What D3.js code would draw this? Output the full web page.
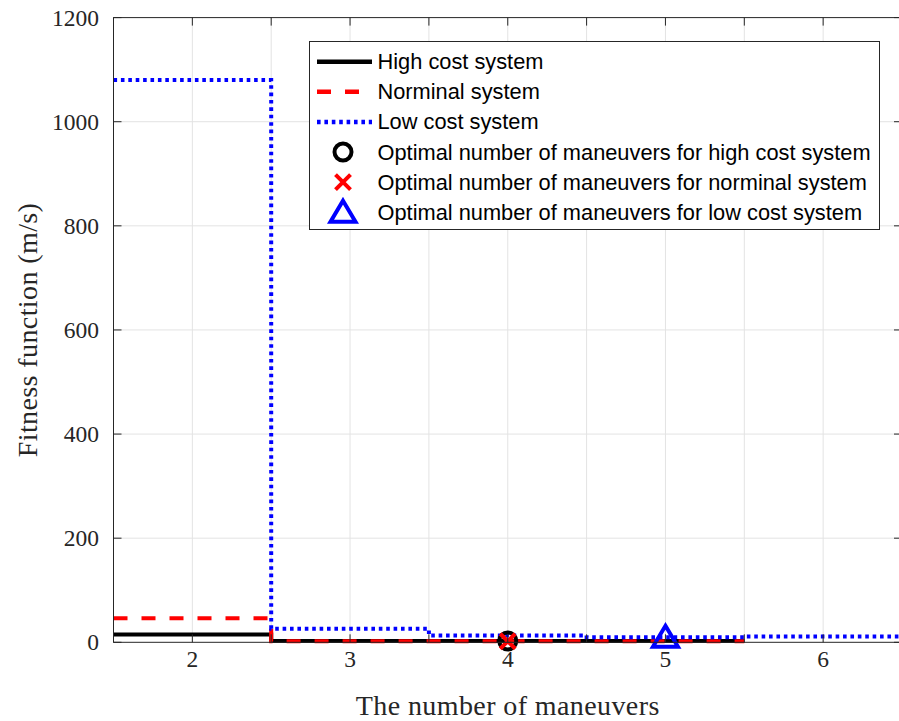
<!DOCTYPE html>
<html lang="en">
<head>
    <meta charset="utf-8">
    <script src="https://d3js.org/d3.v7.min.js"></script>
</head>
<body style="margin:0;background:#fff">
<style>
    .tick-label { font-family: "Liberation Serif", serif; font-size: 23.5px; fill: #262626; }
    .axis-title { font-family: "Liberation Serif", serif; font-size: 28px; fill: #262626; letter-spacing: 0.4px; }
    .legend-text { font-family: "Liberation Sans", Arial, sans-serif; font-size: 21.8px; fill: #000; }
</style>
<svg></svg>
<script>
    const width = 899;
    const height = 721;

    // data
    const maneuvers = [2, 3, 4, 5, 6];
    const highCost = [15, 2.5, 2.5, 2.5];
    const nominal = [46, 2, 2, 2];
    const lowCost = [1080, 26, 13, 9.5, 11];
    const optimal = [
        {name: 'high', n: 4, value: 2.5},
        {name: 'nominal', n: 4, value: 2},
        {name: 'low', n: 5, value: 9.5}
    ];
    const xTicks = [1.5, 2, 2.5, 3, 3.5, 4, 4.5, 5, 5.5, 6, 6.5];
    const xLabels = [2, 3, 4, 5, 6];
    const yTicks = [0, 200, 400, 600, 800, 1000, 1200];
    const legendLabels = [
        'High cost system',
        'Norminal system',
        'Low cost system',
        'Optimal number of maneuvers for high cost system',
        'Optimal number of maneuvers for norminal system',
        'Optimal number of maneuvers for low cost system'
    ];

    const svg = d3.select('svg').attr('width', width).attr('height', height);

    const pLeft = 113.5, pRight = 902, pTop = 17.6, pBottom = 642.3;
    const x = d3.scaleLinear().domain([1.5, 6.5]).range([pLeft, pRight]);
    const y = d3.scaleLinear().domain([0, 1200]).range([pBottom, pTop]);

    // grid
    svg.append('g').selectAll('line').data(xTicks.slice(1, -1)).enter().append('line')
        .attr('x1', d => x(d)).attr('x2', d => x(d))
        .attr('y1', pTop).attr('y2', pBottom)
        .attr('stroke', '#e3e3e3').attr('stroke-width', 1);
    svg.append('g').selectAll('line').data(yTicks.slice(1, -1)).enter().append('line')
        .attr('x1', pLeft).attr('x2', pRight)
        .attr('y1', d => y(d)).attr('y2', d => y(d))
        .attr('stroke', '#e3e3e3').attr('stroke-width', 1);

    // step lines: each value spans n-0.5 .. n+0.5
    const stepPoints = vals => {
        const pts = vals.map((v, i) => [maneuvers[i] - 0.5, v]);
        pts.push([maneuvers[vals.length - 1] + 0.5, vals[vals.length - 1]]);
        return pts;
    };
    const line = d3.line().x(d => x(d[0])).y(d => y(d[1])).curve(d3.curveStepAfter);

    const series = [
        {vals: highCost, color: '#000', dash: null},
        {vals: nominal, color: '#ff0000', dash: '14,14'},
        {vals: lowCost, color: '#0000ff', dash: '3.6,3.8'}
    ];
    series.forEach(s => {
        svg.append('path').datum(stepPoints(s.vals))
            .attr('d', line)
            .attr('fill', 'none')
            .attr('stroke', s.color)
            .attr('stroke-width', 4)
            .attr('stroke-dasharray', s.dash);
    });

    // marker shapes
    const drawMarker = (g, name, cx, cy) => {
        if (name === 'high') {
            g.append('circle').attr('cx', cx).attr('cy', cy).attr('r', 8.5)
                .attr('fill', 'none').attr('stroke', '#000').attr('stroke-width', 4);
        } else if (name === 'nominal') {
            const s = 7.5;
            g.append('path')
                .attr('d', `M${cx - s},${cy - s}L${cx + s},${cy + s}M${cx - s},${cy + s}L${cx + s},${cy - s}`)
                .attr('stroke', '#ff0000').attr('stroke-width', 4).attr('fill', 'none');
        } else {
            const w = 12.5, h = 21;
            g.append('path')
                .attr('d', `M${cx},${cy - h * 0.55}L${cx + w},${cy + h * 0.45}L${cx - w},${cy + h * 0.45}Z`)
                .attr('stroke', '#0000ff').attr('stroke-width', 4).attr('fill', 'none')
                .attr('stroke-linejoin', 'miter');
        }
    };
    const markers = svg.append('g');
    optimal.forEach(o => drawMarker(markers, o.name, x(o.n), y(o.value)));

    // axes box
    const axisColor = '#262626';
    svg.append('rect').attr('x', pLeft).attr('y', pTop)
        .attr('width', pRight - pLeft).attr('height', pBottom - pTop)
        .attr('fill', 'none').attr('stroke', axisColor).attr('stroke-width', 1);

    const tickLen = 8;
    const ticks = svg.append('g').attr('stroke', axisColor).attr('stroke-width', 1);
    xTicks.slice(1, -1).forEach(t => {
        ticks.append('line').attr('x1', x(t)).attr('x2', x(t)).attr('y1', pBottom).attr('y2', pBottom - tickLen);
        ticks.append('line').attr('x1', x(t)).attr('x2', x(t)).attr('y1', pTop).attr('y2', pTop + tickLen);
    });
    yTicks.forEach(t => {
        ticks.append('line').attr('x1', pLeft).attr('x2', pLeft + tickLen).attr('y1', y(t)).attr('y2', y(t));
        ticks.append('line').attr('x1', pRight).attr('x2', pRight - tickLen).attr('y1', y(t)).attr('y2', y(t));
    });

    svg.append('g').selectAll('text').data(xLabels).enter().append('text')
        .attr('class', 'tick-label')
        .attr('x', d => x(d)).attr('y', 667)
        .attr('text-anchor', 'middle')
        .text(d => d);
    svg.append('g').selectAll('text').data(yTicks).enter().append('text')
        .attr('class', 'tick-label')
        .attr('x', 99).attr('y', d => y(d) + 8)
        .attr('text-anchor', 'end')
        .text(d => d);

    svg.append('text').attr('class', 'axis-title')
        .attr('x', (pLeft + pRight) / 2).attr('y', 715)
        .attr('text-anchor', 'middle')
        .text('The number of maneuvers');
    svg.append('text').attr('class', 'axis-title')
        .attr('transform', `translate(37,${(pTop + pBottom) / 2}) rotate(-90)`)
        .attr('text-anchor', 'middle')
        .text('Fitness function (m/s)');

    // legend
    const lg = svg.append('g');
    lg.append('rect').attr('x', 309.5).attr('y', 41.5).attr('width', 570).attr('height', 188)
        .attr('fill', '#fff').attr('stroke', axisColor).attr('stroke-width', 1);
    const rowY = i => 61.7 + i * 30.1;
    series.forEach((s, i) => {
        lg.append('line').attr('x1', 317).attr('x2', 372)
            .attr('y1', rowY(i)).attr('y2', rowY(i))
            .attr('stroke', s.color).attr('stroke-width', 4.5)
            .attr('stroke-dasharray', s.dash);
    });
    optimal.forEach((o, i) => drawMarker(lg, o.name, 343, rowY(i + 3)));
    lg.selectAll('text').data(legendLabels).enter().append('text')
        .attr('class', 'legend-text')
        .attr('x', 377.5).attr('y', (d, i) => rowY(i) + 7.5)
        .text(d => d);
</script>
</body>
</html>
